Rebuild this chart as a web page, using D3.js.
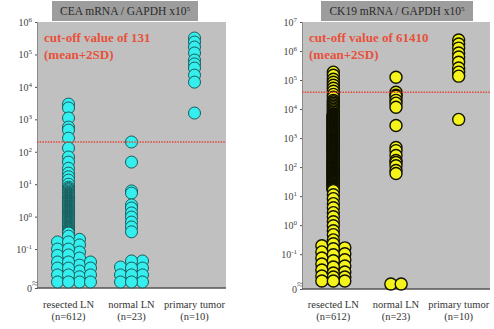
<!DOCTYPE html>
<html>
<head>
<meta charset="utf-8">
<script src="https://cdn.jsdelivr.net/npm/d3@7"></script>
<style>
  body { margin: 0; background: #fff; }
  svg { display: block; }
  svg text { font-family: "Liberation Serif", "DejaVu Serif", serif; }
</style>
</head>
<body>
<div id="chart"></div>
<script>
const categories = ["resected LN", "normal LN", "primary tumor"];
const categoryCounts = ["(n=612)", "(n=23)", "(n=10)"];

// CEA mRNA / GAPDH x10^5
const ceaTicks = [1e6, 1e5, 1e4, 1e3, 1e2, 1e1, 1e0, 1e-1];
const ceaCutoffLabel = "cut-off value of 131";
const ceaCutoffLine = 200;
const ceaResected = [2950, 2240, 1100, 575, 465, 263, 130, 69, 48, 31, 22, 17, 13.4, 10,
  8.1, 7.4, 6.8, 6.2, 5.7, 5.4, 5.1, 4.85, 4.6, 4.45, 4.3, 4.15, 4.0, 3.85, 3.7, 3.6, 3.5, 3.35,
  3.2, 3.1, 3.0, 2.9, 2.8, 2.7, 2.6, 2.52, 2.45, 2.38, 2.3, 2.2, 2.1, 2.05, 2.0, 1.92, 1.85, 1.78,
  1.7, 1.65, 1.6, 1.55, 1.5, 1.45, 1.4, 1.35, 1.3, 1.25, 1.2, 1.15, 1.1, 1.06, 1.03, 1.0, 0.97,
  0.93, 0.9, 0.87, 0.85, 0.82, 0.79, 0.76, 0.73, 0.7, 0.68, 0.66, 0.64, 0.61, 0.59, 0.57, 0.55,
  0.52, 0.5, 0.49, 0.48, 0.46, 0.45, 0.43, 0.42, 0.4, 0.39, 0.37, 0.36, 0.34, 0.33, 0.32, 0.31,
  0.25, 0.166, 0.1, 0.066, 0.04, 0.026, 0.016, 0.0097];
const ceaResectedLaneA = [0.166, 0.1, 0.064, 0.04, 0.026, 0.016, 0.0097];
const ceaResectedLaneB = [0.2, 0.134, 0.081, 0.053, 0.032, 0.021, 0.014, 0.0097];
const ceaResectedLaneC = [0.04, 0.026, 0.016, 0.0097];
const ceaNormal = [200, 48, 6.2, 5.3, 2.3, 1.85, 1.3, 0.97, 0.68, 0.48, 0.34,
  0.043, 0.026, 0.016, 0.0097];
const ceaNormalLaneA = [0.028, 0.016, 0.0097];
const ceaNormalLaneB = [0.043, 0.026, 0.016, 0.0097];
const ceaTumor = [321000, 241000, 169000, 111000, 67000, 51000, 38000, 23000, 14000, 1560];

// CK19 mRNA / GAPDH x10^5
const ck19Ticks = [1e7, 1e6, 1e5, 1e4, 1e3, 1e2, 1e1, 1e0, 1e-1];
const ck19CutoffLabel = "cut-off value of 61410";
const ck19CutoffLine = 38000;
const ck19Resected = [187000, 147000, 107000, 84000, 66000, 52000, 41000, 32000, 25500, 20000,
  17800, 15800, 14000, 12500, 11100, 9800, 8700, 7800, 6900,
  6500, 6300, 6100, 5900, 5700, 5550, 5400, 5250, 5100, 4950, 4800, 4650, 4550, 4400, 4300, 4150,
  4050, 3900, 3800, 3700, 3600, 3500, 3400, 3300, 3200, 3100, 3000, 2900, 2800, 2720, 2650, 2570,
  2500, 2420, 2350, 2280, 2220, 2160, 2100, 2030, 1970, 1910, 1850, 1800, 1750, 1700, 1650, 1600,
  1550, 1500, 1450, 1410, 1370, 1330, 1300, 1260, 1220, 1180, 1150, 1110, 1080, 1050, 1020, 990,
  960, 930, 900, 875, 850, 825, 800, 775, 750, 730, 710, 690, 670, 650, 630, 610, 590, 575, 560,
  545, 530, 515, 500, 485, 470, 455, 440, 428, 415, 402, 390, 380, 370, 360, 350, 340, 330, 320,
  310, 300, 290, 283, 275, 268, 260, 252, 245, 238, 230, 222, 215, 208, 200, 195, 190, 185, 180,
  175, 170, 165, 160, 155, 150, 146, 142, 138, 135, 131, 127, 123, 120, 116, 112, 108, 105, 102,
  100, 97, 94, 91, 88, 85, 83, 80, 78, 76, 74, 72, 70, 68, 66, 64, 62, 60, 58, 56.5, 55, 53.5,
  52, 50.5, 49, 47.5, 46, 44.5, 43, 42, 41, 39.5, 38, 37, 36, 35, 34, 33, 32, 31, 30, 29, 28, 27,
  26.5, 25.5, 25, 24, 23.5, 22.5, 22, 21, 20.5, 20, 19.5, 18.5, 18, 17.5, 17, 16.5, 16, 15.5,
  11.2, 8.2, 5.5, 4.0, 2.7, 1.95, 1.31, 0.95, 0.64, 0.47, 0.31, 0.23,
  0.153, 0.095, 0.059, 0.036, 0.0225, 0.0164, 0.0119];
const ck19ResectedLaneA = [0.194, 0.12, 0.074, 0.046, 0.0286, 0.0178, 0.0119];
const ck19ResectedLaneB = [0.165, 0.103, 0.064, 0.039, 0.0244, 0.0164, 0.0119];
const ck19Normal = [125000, 38000, 30000, 27500, 20000, 16000, 11500, 2700, 475, 370, 251, 169, 144, 112, 76, 60];
const ck19NormalLow = [0.0094, 0.0094];
const ck19Tumor = [2390000, 1740000, 1260000, 850000, 620000, 410000, 260000, 187000, 136000, 4400];

const floorValue = Math.pow(10, -2.2); // where "0" sits on the broken log axis
const serif = '"Liberation Serif", "DejaVu Serif", serif';

const svg = d3.select("#chart").append("svg")
  .attr("width", 494)
  .attr("height", 329);

function drawPanel(p) {
  const g = svg.append("g");

  const x = d3.scalePoint()
    .domain(categories)
    .range([p.x0, p.x1])
    .padding(0.5);

  const y = d3.scaleLog()
    .domain([floorValue, p.top])
    .range([p.y1, p.y0]);

  // title box
  g.append("rect")
    .attr("x", p.titleX0).attr("y", 1)
    .attr("width", p.titleX1 - p.titleX0).attr("height", 20)
    .attr("fill", "#9d9d9d");
  const t = g.append("text")
    .attr("x", (p.titleX0 + p.titleX1) / 2).attr("y", 15)
    .attr("text-anchor", "middle")
    .attr("font-family", serif)
    .attr("font-size", 11.5)
    .attr("fill", "#2a2a2a");
  t.append("tspan").text(p.title + " x10");
  t.append("tspan").attr("dy", -4).attr("font-size", 7).text("5");

  // plot background
  g.append("rect")
    .attr("x", p.x0).attr("y", p.y0)
    .attr("width", p.x1 - p.x0).attr("height", p.y1 - p.y0)
    .attr("fill", "#c0c0c0");

  // y axis
  const ya = g.append("g")
    .attr("transform", "translate(" + p.x0 + ",0)")
    .call(d3.axisLeft(y).tickValues(p.ticks.concat([floorValue])).tickSize(2).tickFormat(""))
    .attr("font-family", serif);
  ya.select(".domain").attr("stroke", "#8a8a8a");
  ya.selectAll(".tick line").attr("stroke", "#555");
  ya.selectAll(".tick").each(function(d) {
    const lab = d3.select(this).append("text")
      .attr("x", -5).attr("dy", "0.35em")
      .attr("text-anchor", "end")
      .attr("font-family", serif)
      .attr("font-size", 10)
      .attr("fill", "#444");
    if (d === floorValue) {
      lab.text("0");
    } else {
      lab.append("tspan").text("10");
      lab.append("tspan").attr("dy", -4).attr("font-size", 7)
        .text(String(Math.round(Math.log10(d))));
    }
  });
  // axis break mark
  g.append("text")
    .attr("x", p.x0 - 2).attr("y", y(floorValue) - 1)
    .attr("text-anchor", "middle")
    .attr("font-family", serif)
    .attr("font-size", 11)
    .attr("fill", "#555")
    .text("≈");

  // x axis line
  g.append("line")
    .attr("x1", p.x0).attr("x2", p.x1)
    .attr("y1", p.y1).attr("y2", p.y1)
    .attr("stroke", "#555").attr("stroke-width", 1.5);

  // category labels
  categories.forEach((c, i) => {
    g.append("text")
      .attr("x", x(c)).attr("y", 308)
      .attr("text-anchor", "middle").attr("font-family", serif)
      .attr("font-size", 10.5).attr("fill", "#333")
      .text(c);
    g.append("text")
      .attr("x", x(c)).attr("y", 320)
      .attr("text-anchor", "middle").attr("font-family", serif)
      .attr("font-size", 10.5).attr("fill", "#333")
      .text(categoryCounts[i]);
  });

  // points
  const pts = [];
  p.groups.forEach(gr => gr.values.forEach(v => pts.push({ cat: gr.cat, lane: gr.lane, value: v })));
  g.selectAll("circle.dot")
    .data(pts)
    .enter().append("circle")
    .attr("class", "dot")
    .attr("cx", d => x(d.cat) + d.lane * p.laneStep)
    .attr("cy", d => y(Math.max(d.value, floorValue)))
    .attr("r", 6)
    .attr("fill", p.fill)
    .attr("stroke", p.stroke)
    .attr("stroke-width", p.strokeWidth);

  // cut-off line
  g.append("line")
    .attr("x1", p.x0).attr("x2", p.x1)
    .attr("y1", y(p.cutoff)).attr("y2", y(p.cutoff))
    .attr("stroke", "#e2473a")
    .attr("stroke-width", 1.5)
    .attr("stroke-dasharray", "1.5,1.2");

  g.append("text")
    .attr("x", p.x0 + 7).attr("y", 42)
    .attr("font-family", serif)
    .attr("font-size", 13).attr("font-weight", "bold").attr("fill", "#e8503a")
    .text(p.cutoffLabel);
  g.append("text")
    .attr("x", p.x0 + 7).attr("y", 59)
    .attr("font-family", serif)
    .attr("font-size", 13).attr("font-weight", "bold").attr("fill", "#e8503a")
    .text("(mean+2SD)");
}

drawPanel({
  title: "CEA mRNA / GAPDH",
  titleX0: 52, titleX1: 198,
  x0: 37, x1: 226, y0: 22, y1: 288,
  top: 1e6, ticks: ceaTicks,
  cutoff: ceaCutoffLine, cutoffLabel: ceaCutoffLabel,
  fill: "#35eeee", stroke: "#1a5a5a", strokeWidth: 1.0, laneStep: 11,
  groups: [
    { cat: categories[0], lane: -1, values: ceaResectedLaneA },
    { cat: categories[0], lane: 1, values: ceaResectedLaneB },
    { cat: categories[0], lane: 2, values: ceaResectedLaneC },
    { cat: categories[0], lane: 0, values: ceaResected },
    { cat: categories[1], lane: -1, values: ceaNormalLaneA },
    { cat: categories[1], lane: 1, values: ceaNormalLaneB },
    { cat: categories[1], lane: 0, values: ceaNormal },
    { cat: categories[2], lane: 0, values: ceaTumor }
  ]
});

drawPanel({
  title: "CK19 mRNA / GAPDH",
  titleX0: 321, titleX1: 473,
  x0: 302, x1: 490, y0: 22, y1: 289,
  top: 1e7, ticks: ck19Ticks,
  cutoff: ck19CutoffLine, cutoffLabel: ck19CutoffLabel,
  fill: "#f4f41c", stroke: "#111100", strokeWidth: 1.4, laneStep: 11.5,
  groups: [
    { cat: categories[0], lane: -1, values: ck19ResectedLaneA },
    { cat: categories[0], lane: 1, values: ck19ResectedLaneB },
    { cat: categories[0], lane: 0, values: ck19Resected },
    { cat: categories[1], lane: -0.45, values: ck19NormalLow.slice(0, 1) },
    { cat: categories[1], lane: 0.45, values: ck19NormalLow.slice(1) },
    { cat: categories[1], lane: 0, values: ck19Normal },
    { cat: categories[2], lane: 0, values: ck19Tumor }
  ]
});
</script>
</body>
</html>
